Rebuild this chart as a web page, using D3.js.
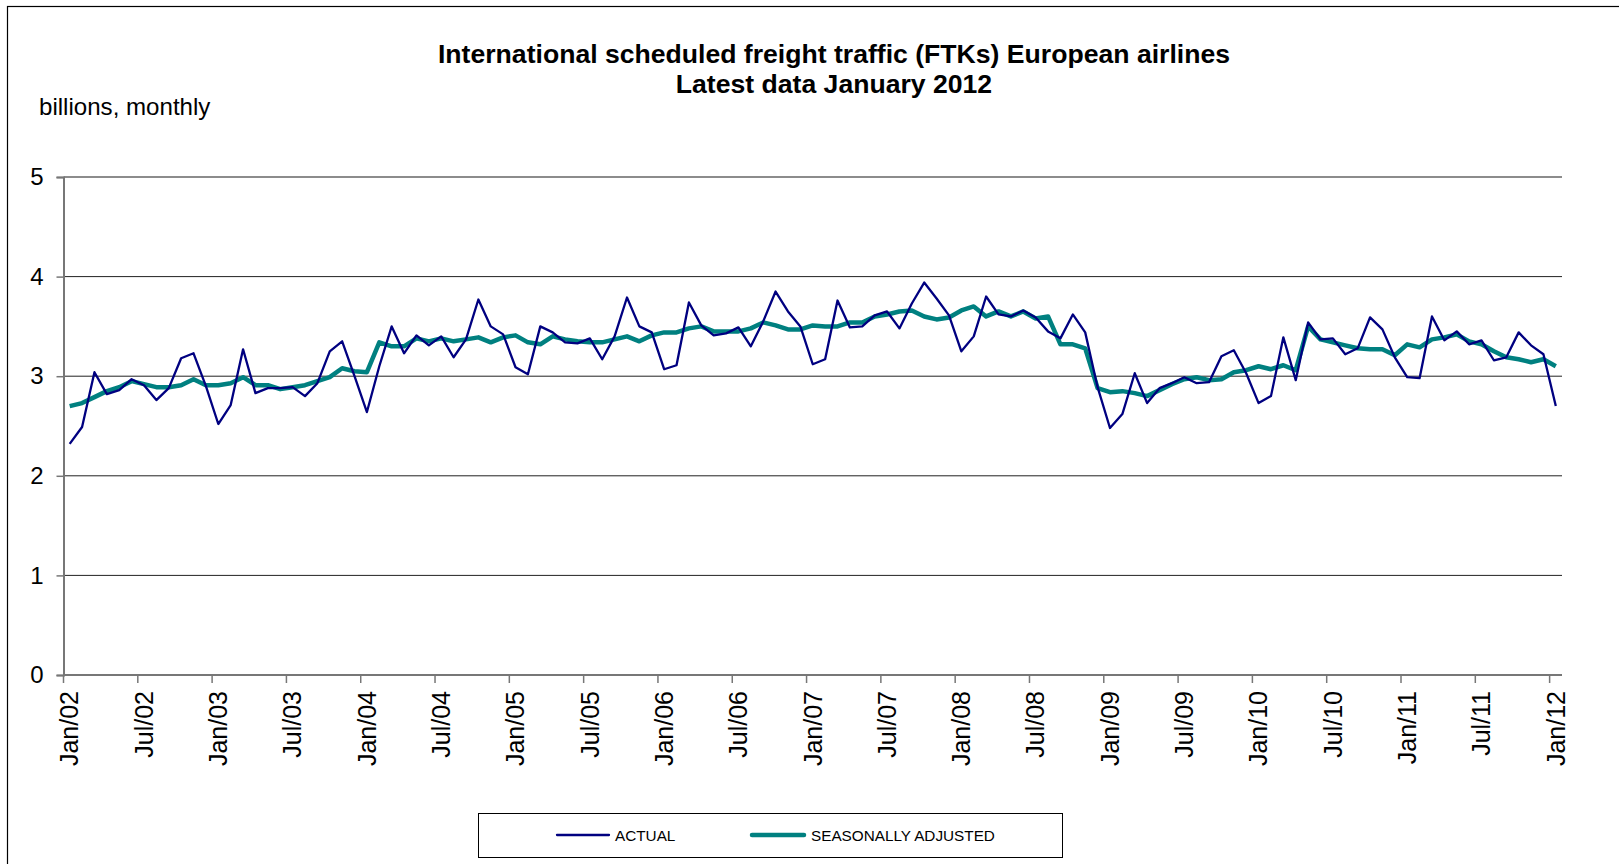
<!DOCTYPE html>
<html>
<head>
<meta charset="utf-8">
<script src="https://cdn.jsdelivr.net/npm/d3@7"></script>
<style>
  body { margin: 0; background: #fff; }
  text { font-family: Arial, "Liberation Sans", sans-serif; fill: #000; }
</style>
</head>
<body>
<div id="chart"></div>
<script>
// ---------------- data ----------------
var startMonth = new Date(2002, 0, 1);
var endMonth = new Date(2012, 0, 1);

var actual = [
    2.32, 2.49, 3.04, 2.82, 2.86, 2.97, 2.91, 2.76, 2.88, 3.18, 3.23, 2.90, // 2002
    2.52, 2.71, 3.27, 2.83, 2.88, 2.88, 2.89, 2.80, 2.93, 3.25, 3.35, 3.00, // 2003
    2.64, 3.10, 3.50, 3.23, 3.41, 3.31, 3.40, 3.19, 3.37, 3.77, 3.50, 3.42, // 2004
    3.09, 3.02, 3.50, 3.44, 3.34, 3.33, 3.38, 3.17, 3.40, 3.79, 3.50, 3.44, // 2005
    3.07, 3.11, 3.74, 3.51, 3.41, 3.43, 3.49, 3.30, 3.55, 3.85, 3.65, 3.50, // 2006
    3.12, 3.17, 3.76, 3.49, 3.50, 3.61, 3.65, 3.48, 3.73, 3.94, 3.78, 3.61, // 2007
    3.25, 3.40, 3.80, 3.62, 3.60, 3.66, 3.59, 3.45, 3.38, 3.62, 3.44, 2.89, // 2008
    2.48, 2.62, 3.03, 2.73, 2.88, 2.93, 2.99, 2.93, 2.94, 3.20, 3.26, 3.03, // 2009
    2.73, 2.80, 3.39, 2.96, 3.54, 3.37, 3.38, 3.22, 3.28, 3.59, 3.47, 3.19, // 2010
    2.99, 2.98, 3.60, 3.36, 3.45, 3.32, 3.36, 3.16, 3.19, 3.44, 3.31, 3.22, // 2011
    2.70                                                                    // 2012
];

var seasonal = [
    2.70, 2.73, 2.79, 2.85, 2.89, 2.95, 2.92, 2.89, 2.89, 2.91, 2.97, 2.91,
    2.91, 2.93, 2.99, 2.91, 2.91, 2.87, 2.89, 2.91, 2.95, 2.99, 3.08, 3.05,
    3.04, 3.34, 3.30, 3.30, 3.38, 3.35, 3.38, 3.35, 3.37, 3.39, 3.34, 3.39,
    3.41, 3.34, 3.32, 3.40, 3.37, 3.35, 3.34, 3.34, 3.37, 3.40, 3.35, 3.41,
    3.44, 3.44, 3.48, 3.50, 3.45, 3.45, 3.45, 3.48, 3.54, 3.51, 3.47, 3.47,
    3.51, 3.50, 3.50, 3.54, 3.54, 3.60, 3.62, 3.65, 3.66, 3.60, 3.57, 3.59,
    3.66, 3.70, 3.60, 3.65, 3.60, 3.65, 3.58, 3.60, 3.32, 3.32, 3.28, 2.88,
    2.84, 2.85, 2.83, 2.80, 2.86, 2.92, 2.97, 2.99, 2.96, 2.97, 3.04, 3.06,
    3.10, 3.07, 3.11, 3.06, 3.50, 3.37, 3.34, 3.31, 3.28, 3.27, 3.27, 3.21,
    3.32, 3.29, 3.37, 3.39, 3.42, 3.35, 3.32, 3.25, 3.19, 3.17, 3.14, 3.17,
    3.10
];

var yTicks = [0, 1, 2, 3, 4, 5];
var labelEvery = 6; // Jan and Jul only

var titleLines = ["International scheduled freight traffic (FTKs) European airlines",
                  "Latest data January 2012"];
var unitLabel = "billions, monthly";
var seriesNames = ["ACTUAL", "SEASONALLY ADJUSTED"];
var seriesColors = ["#000080", "#008080"];

// months list -> category axis
var months = d3.timeMonth.range(startMonth, d3.timeMonth.offset(endMonth, 1));
var fmt = d3.timeFormat("%b/%y");

var W = 1619, H = 864;
var plot = { left: 63.5, right: 1562, top: 177, bottom: 675 };

var svg = d3.select("#chart").append("svg")
    .attr("width", W)
    .attr("height", H);

// outer chart frame (right / bottom edges fall outside the picture)
svg.append("rect")
    .attr("x", 7.5).attr("y", 6.5)
    .attr("width", 1700).attr("height", 1000)
    .attr("fill", "none")
    .attr("stroke", "#000")
    .attr("stroke-width", 1.2);

// Excel style "between tick marks" category axis
var x = d3.scaleBand()
    .domain(months)
    .range([plot.left, plot.right])
    .paddingInner(0).paddingOuter(0);

var y = d3.scaleLinear()
    .domain([0, 5])
    .range([plot.bottom, plot.top]);

var cx = function (d, i) { return x(months[i]) + x.bandwidth() / 2; };

// gridlines
svg.append("g").selectAll("line")
    .data(yTicks.filter(function (t) { return t > 0; }))
    .join("line")
    .attr("x1", plot.left).attr("x2", plot.right)
    .attr("y1", function (d) { return y(d); })
    .attr("y2", function (d) { return y(d); })
    .attr("stroke", function (d) { return d == 5 ? "#666" : "#222"; })
    .attr("stroke-width", function (d) { return d == 5 ? 1.6 : 1; });

// y axis
var yAxis = svg.append("g")
    .attr("transform", "translate(" + plot.left + ",0)")
    .call(d3.axisLeft(y).tickValues(yTicks).tickSize(7).tickPadding(13).tickFormat(d3.format("d")));
yAxis.select(".domain").attr("stroke", "#777").attr("stroke-width", 2);
yAxis.selectAll(".tick line").attr("stroke", "#777").attr("stroke-width", 1.5);
yAxis.selectAll(".tick text")
    .style("font-size", "24px")
    .style("font-family", "Arial, 'Liberation Sans', sans-serif");

// x axis: ticks on the left edge of every 6th month, labels centred on the month
var tickMonths = months.filter(function (d, i) { return i % labelEvery == 0; });
var xAxis = svg.append("g");
xAxis.append("line")
    .attr("x1", plot.left).attr("x2", plot.right)
    .attr("y1", plot.bottom).attr("y2", plot.bottom)
    .attr("stroke", "#777").attr("stroke-width", 2);
xAxis.selectAll(".xt")
    .data(tickMonths)
    .join("line")
    .attr("class", "xt")
    .attr("x1", function (d) { return x(d); })
    .attr("x2", function (d) { return x(d); })
    .attr("y1", plot.bottom).attr("y2", plot.bottom + 8)
    .attr("stroke", "#777").attr("stroke-width", 1.5);
xAxis.selectAll(".xl")
    .data(tickMonths)
    .join("text")
    .attr("class", "xl")
    .attr("transform", function (d) {
        return "translate(" + (x(d) + x.bandwidth() / 2) + "," + (plot.bottom + 16) + ") rotate(-90)";
    })
    .attr("text-anchor", "end")
    .attr("dy", "0.35em")
    .style("font-size", "25px")
    .text(function (d) { return fmt(d); });

// lines
var line = d3.line()
    .x(function (d, i) { return cx(d, i); })
    .y(function (d) { return y(d); });

svg.append("path")
    .datum(seasonal)
    .attr("d", line)
    .attr("fill", "none")
    .attr("stroke", seriesColors[1])
    .attr("stroke-width", 4.5)
    .attr("stroke-linejoin", "round");

svg.append("path")
    .datum(actual)
    .attr("d", line)
    .attr("fill", "none")
    .attr("stroke", seriesColors[0])
    .attr("stroke-width", 2.3)
    .attr("stroke-linejoin", "round");

// titles
svg.selectAll(".title")
    .data(titleLines)
    .join("text")
    .attr("class", "title")
    .attr("x", 834)
    .attr("y", function (d, i) { return 63 + i * 30; })
    .attr("text-anchor", "middle")
    .style("font-size", "26.6px")
    .style("font-weight", "bold")
    .text(function (d) { return d; });

svg.append("text")
    .attr("x", 39)
    .attr("y", 115)
    .style("font-size", "24.1px")
    .text(unitLabel);

// legend
var legend = svg.append("g");
legend.append("rect")
    .attr("x", 478.5).attr("y", 813.5)
    .attr("width", 584).attr("height", 44)
    .attr("fill", "#fff")
    .attr("stroke", "#000")
    .attr("stroke-width", 1);

var legendX = [557, 752];
var items = legend.selectAll(".item")
    .data(seriesNames)
    .join("g")
    .attr("class", "item")
    .attr("transform", function (d, i) { return "translate(" + legendX[i] + ",835)"; });
items.append("line")
    .attr("x1", 0).attr("x2", 52)
    .attr("stroke", function (d, i) { return seriesColors[i]; })
    .attr("stroke-width", function (d, i) { return i == 0 ? 2.3 : 4.5; })
    .attr("stroke-linecap", "round");
items.append("text")
    .attr("x", function (d, i) { return i == 0 ? 58 : 59; })
    .attr("dy", "0.36em")
    .style("font-size", "15.3px")
    .text(function (d) { return d; });
</script>
</body>
</html>
